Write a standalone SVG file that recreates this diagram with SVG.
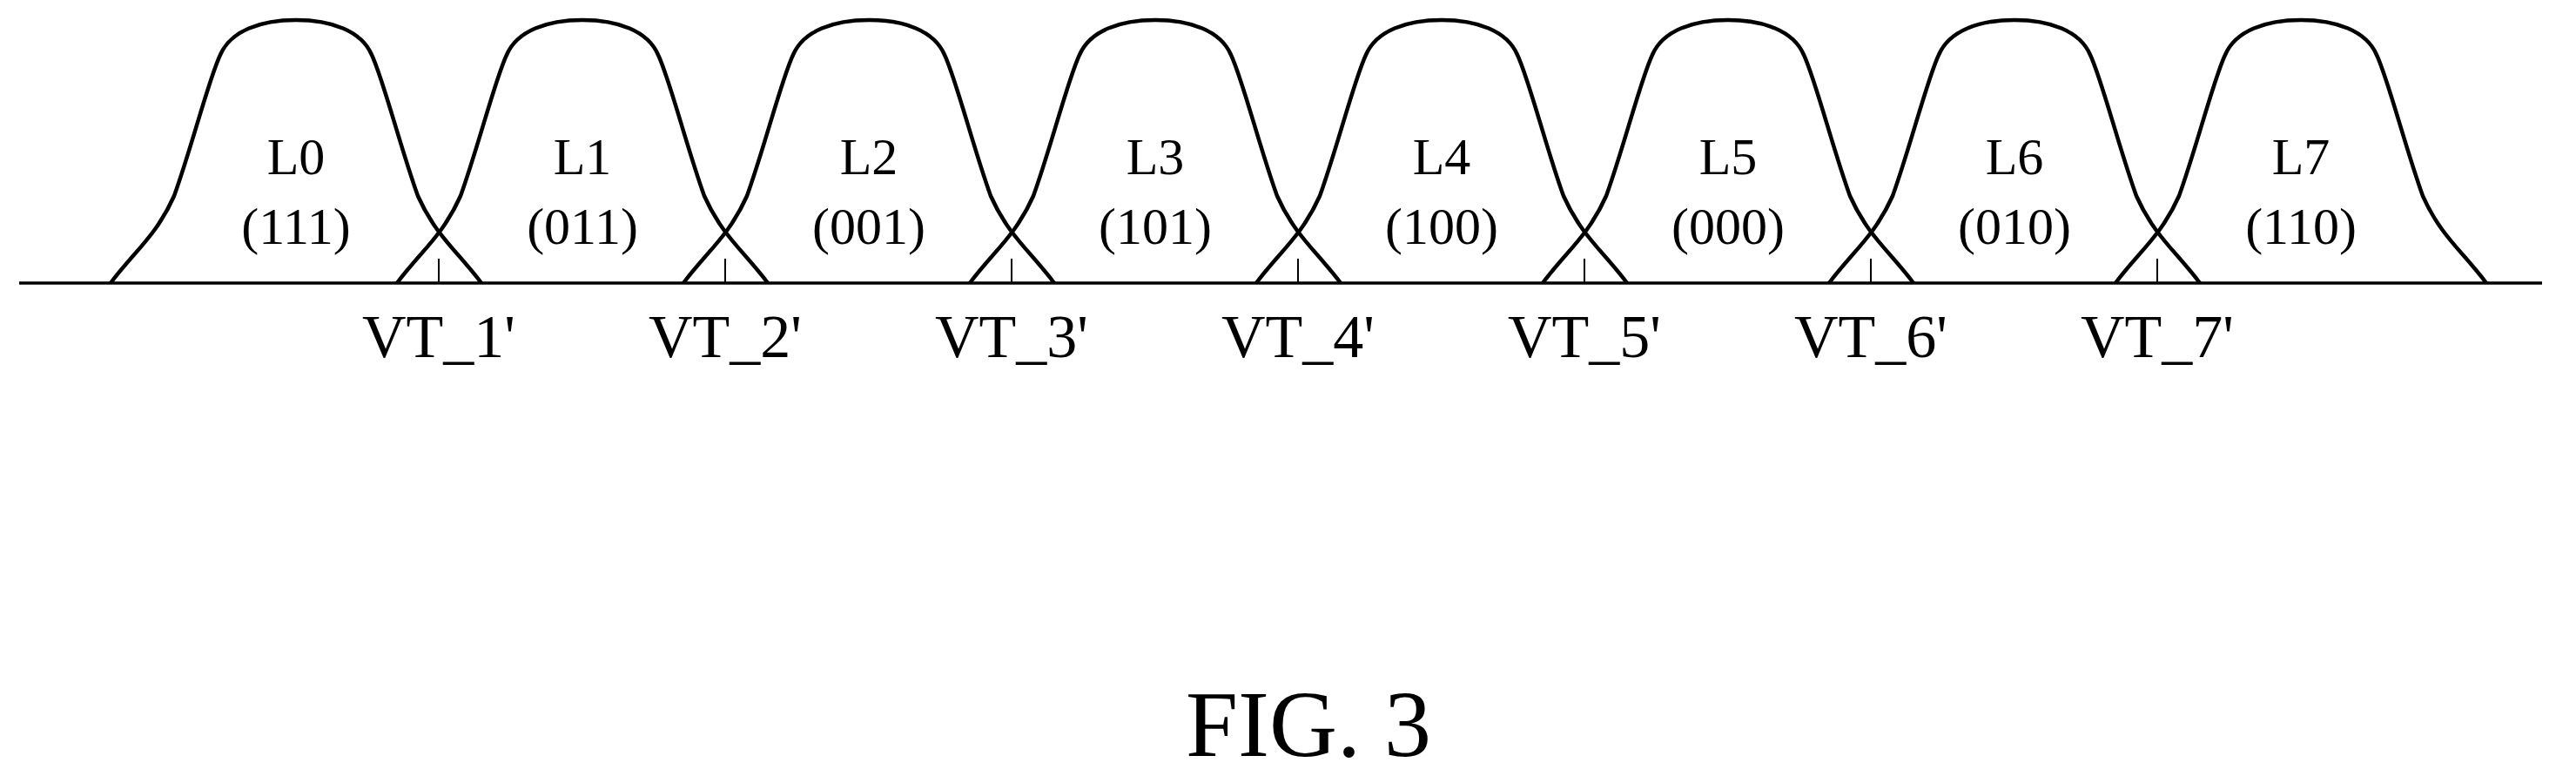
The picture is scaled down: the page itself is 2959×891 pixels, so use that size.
<svg xmlns="http://www.w3.org/2000/svg" width="2959" height="891" viewBox="0 0 2959 891">
<style>
.c{fill:none;stroke:#000;stroke-width:4.5;stroke-linejoin:round}
.b{stroke:#000;stroke-width:3.5}
.t{stroke:#000;stroke-width:2}
text{font-family:"Liberation Serif",serif;fill:#000;text-anchor:middle}
.l{font-size:60px}
.v{font-size:70px}
</style>
<defs>
<path id="bump" class="c" d="M-213,325 C-185,288 -160,270 -140,225 C-120,170 -100,90 -87,63 C-75,35 -40,23 0,23 C40,23 75,35 87,63 C100,90 120,170 140,225 C160,270 185,288 213,325"/>
</defs>
<g id="connectors">
<line class="b" x1="22" y1="325" x2="2920" y2="325"/>
<line class="t" x1="504" y1="297" x2="504" y2="325"/>
<line class="t" x1="833" y1="297" x2="833" y2="325"/>
<line class="t" x1="1162" y1="297" x2="1162" y2="325"/>
<line class="t" x1="1491" y1="297" x2="1491" y2="325"/>
<line class="t" x1="1820" y1="297" x2="1820" y2="325"/>
<line class="t" x1="2149" y1="297" x2="2149" y2="325"/>
<line class="t" x1="2478" y1="297" x2="2478" y2="325"/>
</g>
<g id="L0"><use href="#bump" x="340"/><text class="l" x="340" y="200">L0</text><text class="l" x="340" y="280">(111)</text></g>
<g id="L1"><use href="#bump" x="669"/><text class="l" x="669" y="200">L1</text><text class="l" x="669" y="280">(011)</text></g>
<g id="L2"><use href="#bump" x="998"/><text class="l" x="998" y="200">L2</text><text class="l" x="998" y="280">(001)</text></g>
<g id="L3"><use href="#bump" x="1327"/><text class="l" x="1327" y="200">L3</text><text class="l" x="1327" y="280">(101)</text></g>
<g id="L4"><use href="#bump" x="1656"/><text class="l" x="1656" y="200">L4</text><text class="l" x="1656" y="280">(100)</text></g>
<g id="L5"><use href="#bump" x="1985"/><text class="l" x="1985" y="200">L5</text><text class="l" x="1985" y="280">(000)</text></g>
<g id="L6"><use href="#bump" x="2314"/><text class="l" x="2314" y="200">L6</text><text class="l" x="2314" y="280">(010)</text></g>
<g id="L7"><use href="#bump" x="2643"/><text class="l" x="2643" y="200">L7</text><text class="l" x="2643" y="280">(110)</text></g>
<g id="labels">
<text class="v" x="504" y="410">VT_1'</text>
<text class="v" x="833" y="410">VT_2'</text>
<text class="v" x="1162" y="410">VT_3'</text>
<text class="v" x="1491" y="410">VT_4'</text>
<text class="v" x="1820" y="410">VT_5'</text>
<text class="v" x="2149" y="410">VT_6'</text>
<text class="v" x="2478" y="410">VT_7'</text>
<text x="1503" y="868" style="font-size:108px">FIG. 3</text>
</g>
</svg>
